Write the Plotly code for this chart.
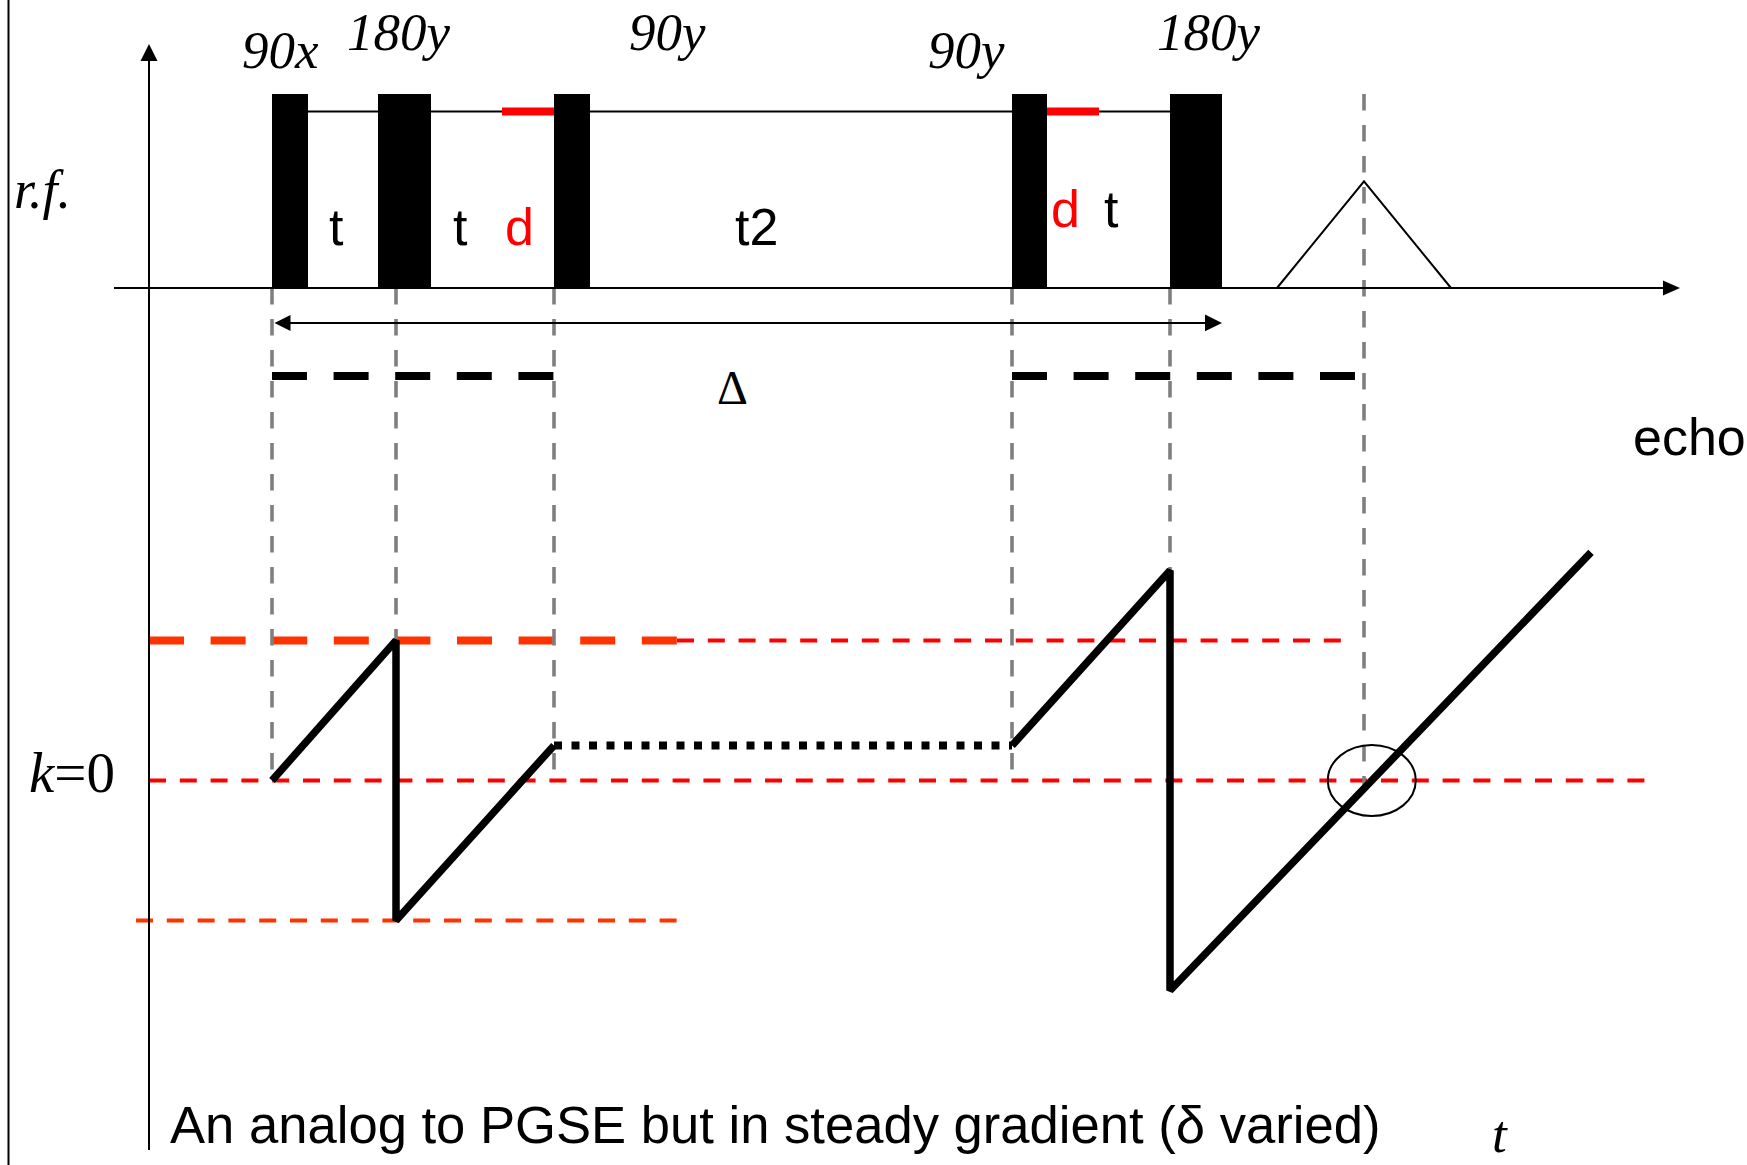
import plotly.graph_objects as go

# ---------------- pulse sequence (time axis in arbitrary units) ----------------
pulse_names = ["90x", "180y", "90y", "90y", "180y"]
pulse_start = [272, 378, 554, 1012, 1170]
pulse_end = [308, 431, 590, 1047, 1222]
pulse_amp = [1.0, 1.0, 1.0, 1.0, 1.0]

hold_level = 0.91                 # thin level line joining the pulses
delay_start = [502, 1047]         # red "d" windows
delay_len = 52

echo_t = [1277, 1364, 1451]
echo_amp = [0.0, 0.55, 0.0]

# ---------------- coherence pathway in k ----------------
k_levels = [1, 0, -1]
path1_t = [272, 396, 396, 554]
path1_k = [0.0, 1.0, -1.0, 0.25]
store_t = [554, 1012]
store_k = [0.25, 0.25]
path2_t = [1012, 1170, 1170, 1591]
path2_k = [0.25, 1.5, -1.5, 1.63]

# gray timing guides: time, start (rf amplitude), end (k value)
guide_t = [272, 396, 554, 1012, 1170, 1364]
guide_rf_start = [0, 0, 0, 0, 0, 1]
guide_k_end = [0, 1, 0, 0, 1.5, -0.06]

# ---------------- canvas layout ----------------
W, H = 1747, 1165
RF_BASE, RF_UNIT = 288, 194
K_ZERO, K_UNIT = 780.5, 140
SERIF = "Liberation Serif"
SANS = "Liberation Sans"
RED = "#ff0000"
ORANGE = "#ff3300"
GRAY = "#7f7f7f"


def rf_y(a):
    return RF_BASE - a * RF_UNIT


def k_y(k):
    return K_ZERO - k * K_UNIT


def seg(x, y, color="black", width=2, dash=None):
    line = dict(color=color, width=width)
    if dash:
        line["dash"] = dash
    return go.Scatter(x=x, y=y, mode="lines", line=line,
                      hoverinfo="skip", showlegend=False)


def head(tx, ty, direction, length, half):
    if direction == "right":
        xs, ys = [tx, tx - length, tx - length, tx], [ty, ty - half, ty + half, ty]
    elif direction == "left":
        xs, ys = [tx, tx + length, tx + length, tx], [ty, ty - half, ty + half, ty]
    else:  # up (canvas y grows downward)
        xs, ys = [tx, tx - half, tx + half, tx], [ty, ty + length, ty + length, ty]
    return go.Scatter(x=xs, y=ys, mode="lines", fill="toself", fillcolor="black",
                      line=dict(color="black", width=0), hoverinfo="skip",
                      showlegend=False)


fig = go.Figure()
shapes = []

# left frame edge
fig.add_trace(seg([8.5, 8.5], [0, H], width=2))

# k reference levels
fig.add_trace(seg([677, 1345], [k_y(k_levels[0])] * 2, RED, 4, "17px,13.8px"))
fig.add_trace(seg([149, 677], [k_y(k_levels[0])] * 2, ORANGE, 8, "35px,26.6px"))
fig.add_trace(seg([149, 1645], [k_y(k_levels[1])] * 2, RED, 4, "17px,13.8px"))
fig.add_trace(seg([136, 677], [k_y(k_levels[2])] * 2, ORANGE, 4, "17px,13.8px"))

# gray timing guides
for t, a0, k1 in zip(guide_t, guide_rf_start, guide_k_end):
    fig.add_trace(seg([t, t], [rf_y(a0), k_y(k1)], GRAY, 3.6, "16.5px,14.5px"))

# axes
fig.add_trace(seg([149, 149], [1150, 60], width=2))
fig.add_trace(head(149, 44, "up", 17, 8.5))
fig.add_trace(seg([114, 1664], [rf_y(0)] * 2, width=2))
fig.add_trace(head(1680, rf_y(0), "right", 17, 7.5))

# hold line and red delay windows
fig.add_trace(seg([pulse_end[0], pulse_start[4]], [rf_y(hold_level)] * 2, width=2))
for s in delay_start:
    fig.add_trace(seg([s, s + delay_len], [rf_y(hold_level)] * 2, RED, 8))

# rf pulses
for s, e, a in zip(pulse_start, pulse_end, pulse_amp):
    shapes.append(dict(type="rect", xref="x", yref="y", x0=s, x1=e,
                       y0=rf_y(0), y1=rf_y(a), fillcolor="black",
                       line=dict(width=0), layer="above"))

# echo
fig.add_trace(seg(echo_t, [rf_y(a) for a in echo_amp], width=2))

# Delta arrow
arrow_y = rf_y(-0.18)
fig.add_trace(seg([280, 1215], [arrow_y] * 2, width=2))
fig.add_trace(head(274.5, arrow_y, "left", 16, 8))
fig.add_trace(head(pulse_end[4], arrow_y, "right", 17, 8.3))

# gradient windows (heavy dashes)
bar_y = rf_y(-0.454)
fig.add_trace(seg([pulse_start[0], pulse_start[2]], [bar_y] * 2, "black", 8, "35px,26.6px"))
fig.add_trace(seg([pulse_start[3], echo_t[1]], [bar_y] * 2, "black", 8, "35px,26.6px"))

# k trajectory
fig.add_trace(seg(path1_t, [k_y(k) for k in path1_k], "black", 7.5))
fig.add_trace(seg(store_t, [k_y(k) for k in store_k], "black", 8, "8px,9.5px"))
fig.add_trace(seg(path2_t, [k_y(k) for k in path2_k], "black", 7.5))

# circle around the refocusing point (last ramp crossing k = 0)
t_a, t_b = path2_t[2], path2_t[3]
k_a, k_b = path2_k[2], path2_k[3]
t_cross = t_a + (0 - k_a) / (k_b - k_a) * (t_b - t_a)
shapes.append(dict(type="circle", xref="x", yref="y",
                   x0=t_cross - 44, x1=t_cross + 44,
                   y0=k_y(0) - 35.5, y1=k_y(0) + 35.5,
                   line=dict(color="black", width=2)))

# ---------------- text ----------------
ann = []


def label(text, x, y, family, size, color="black", xanchor="center"):
    ann.append(dict(text=text, x=x, y=y, xref="x", yref="y", showarrow=False,
                    xanchor=xanchor, yanchor="middle",
                    font=dict(family=family, size=size, color=color)))


pulse_label_pos = [(280, 50), (399, 32), (667, 32), (966, 50), (1209, 32)]
for name, (x, y) in zip(pulse_names, pulse_label_pos):
    label(f"<i>{name}</i>", x, y, SERIF, 53)

label("<i>r.f.</i>", 42, 190, SERIF, 54)
label("<i>k</i>=0", 72, 772, SERIF, 57)
label("<i>t</i>", 1500, 1134, SERIF, 53)
label("Δ", 732, 387, SERIF, 48)

label("t", 336.5, 227, SANS, 52)
label("t", 460, 227, SANS, 52)
label("d", 519, 227, SANS, 52, RED)
label("t2", 756, 227, SANS, 52)
label("d", 1065, 209, SANS, 52, RED)
label("t", 1111, 209, SANS, 52)
label("echo", 1689, 437, SANS, 52)
label("An analog to PGSE but in steady gradient (δ varied)", 168, 1124, SANS, 52.6,
      xanchor="left")

fig.update_layout(
    width=W, height=H, autosize=False,
    margin=dict(l=0, r=0, t=0, b=0, pad=0),
    paper_bgcolor="white", plot_bgcolor="white",
    xaxis=dict(range=[0, W], visible=False, fixedrange=True),
    yaxis=dict(range=[H, 0], visible=False, fixedrange=True),
    shapes=shapes, annotations=ann, showlegend=False,
)

fig.write_html("out.html", config=dict(displayModeBar=False))
